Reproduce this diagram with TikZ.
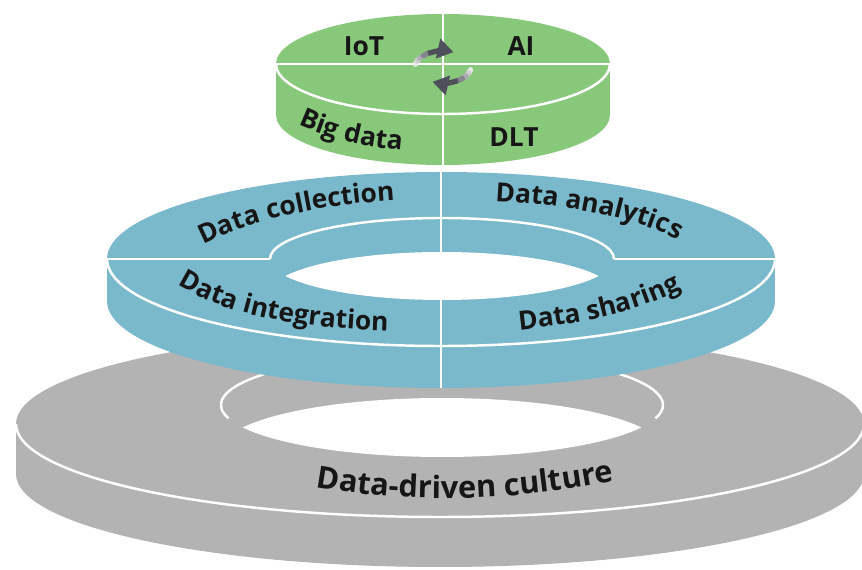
\documentclass[tikz,border=0pt]{standalone}
\usepackage{fontspec}
\setmainfont{Open Sans}
\usepackage{tikz}
\usetikzlibrary{arrows.meta,decorations.text}

\definecolor{topgreen}{RGB}{136,200,122}
\definecolor{ringblue}{RGB}{122,185,204}
\definecolor{basegrey}{RGB}{179,179,179}
\definecolor{cyclegrey}{RGB}{80,80,92}
\definecolor{labelblack}{RGB}{22,22,22}

\newcommand{\lblfont}{\fontsize{15}{17}\selectfont\bfseries\color{labelblack}}
\newcommand{\basefont}{\fontsize{17.5}{19}\selectfont\bfseries\color{labelblack}}

\begin{document}
\begin{tikzpicture}[x=0.02cm,y=-0.02cm,
  seam/.style={white,line width=1.4pt},
  lbl/.style={font=\lblfont,inner sep=0pt},
  curvelbl/.style={decorate,decoration={text along path,text align=center,text={|\lblfont|#1}}},
  baselbl/.style={decorate,decoration={text along path,text align=center,text={|\basefont|#1}}},
  cyc/.style={cyclegrey,line width=3pt}]
\useasboundingbox[fill=white] (0,0) rectangle (862,570);

% grey base ring
\fill[basegrey] (440,474) ellipse (424 and 93);
\fill[basegrey] (16,424) rectangle (864,474);
\fill[basegrey] (440,424) ellipse (424 and 93);
\begin{scope}
\clip (442,405) ellipse (221 and 52);
\fill[white] (442,450) ellipse (221 and 52);
\end{scope}
\draw[seam] (442,405) ++(165:221 and 52) arc[start angle=165,end angle=375,x radius=221,y radius=52];
\draw[seam] (16,424) arc[start angle=180,end angle=0,x radius=424,y radius=93];

% blue ring
\fill[ringblue] (441,301) ellipse (334 and 87);
\fill[ringblue] (107,259) rectangle (775,301);
\fill[ringblue] (441,259) ellipse (334 and 87);
\draw[seam] (441,172) -- (441,388);
\begin{scope}
\clip (442,259) ellipse (172 and 41);
\fill[white] (442,293) ellipse (172 and 41);
\end{scope}
\draw[seam] (270,259) arc[start angle=180,end angle=360,x radius=172,y radius=41];
\draw[seam] (107,259) -- (270,259);
\draw[seam] (614,259) -- (775,259);
\draw[seam] (107,259) arc[start angle=180,end angle=0,x radius=334,y radius=87];

% green cylinder
\fill[topgreen] (443,115) ellipse (167 and 50);
\fill[topgreen] (276,64) rectangle (610,115);
\fill[topgreen] (443,64) ellipse (167 and 50);
\draw[seam] (443,14) -- (443,165);
\draw[seam] (276,64) -- (610,64);
\draw[seam] (276,64) arc[start angle=180,end angle=0,x radius=167,y radius=50];

% cycle arrows, faded tails
\foreach \a/\p in {190/12,202/28,214/48,226/70}
  \draw[cyc,line cap=round,cyclegrey!\p] (443,67) ++(\a:28 and 16) arc[start angle=\a,end angle=\a+13,x radius=28,y radius=16];
\draw[cyc,-{Triangle[length=9pt,width=11pt]}] (443,67) ++(238:28 and 16) arc[start angle=238,end angle=292,x radius=28,y radius=16];
\foreach \a/\p in {10/12,22/28,34/48,46/70}
  \draw[cyc,line cap=round,cyclegrey!\p] (443,67) ++(\a:28 and 16) arc[start angle=\a,end angle=\a+13,x radius=28,y radius=16];
\draw[cyc,-{Triangle[length=9pt,width=11pt]}] (443,67) ++(58:28 and 16) arc[start angle=58,end angle=112,x radius=28,y radius=16];

% labels
\node[lbl] (iot) at (364,46) {IoT};
\node[lbl] (ai) at (521,46) {AI};
\node[lbl] (dlt) at (514,137) {DLT};
\path[curvelbl={Big data}] (280,116) .. controls (320,137) and (360,149) .. (422,151);
\path[curvelbl={Data collection}] (175,262) .. controls (235,216) and (350,200) .. (428,199);
\path[curvelbl={Data analytics}] (466,200) .. controls (540,202) and (650,212) .. (702,256);
\path[curvelbl={Data integration}] (160,272) .. controls (200,305) and (270,330) .. (410,331);
\path[curvelbl={Data sharing}] (490,333) .. controls (570,326) and (645,315) .. (707,274);
\path[baselbl={Data-driven culture}] (280,480) .. controls (400,507) and (520,504) .. (650,473);
\end{tikzpicture}
\end{document}
